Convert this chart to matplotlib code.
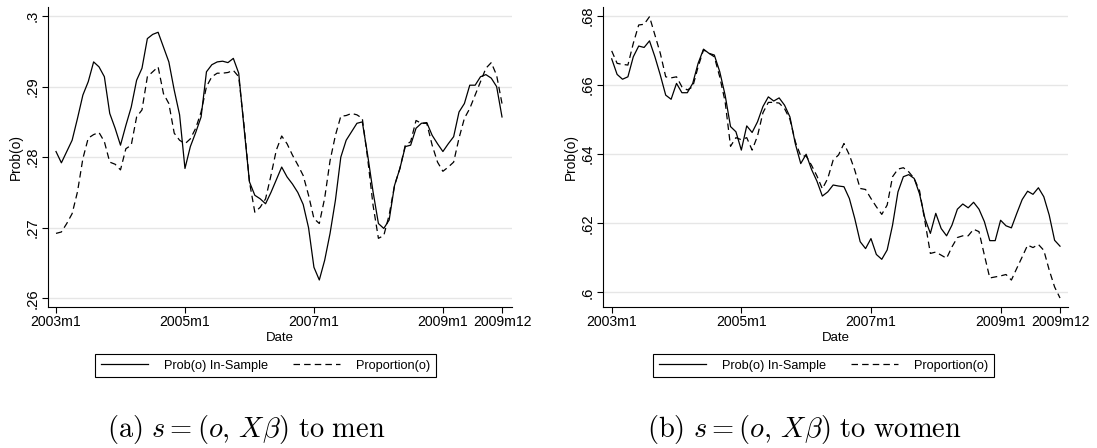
import numpy as np
import matplotlib
matplotlib.use('Agg')
import matplotlib.pyplot as plt

plt.rcParams['font.family'] = ['Liberation Sans', 'DejaVu Sans']
plt.rcParams['mathtext.fontset'] = 'cm'

# monthly index 2003m1 .. 2009m12
months = np.arange(84)
xtick_pos = [0, 24, 48, 72, 83]
xtick_labels = ['2003m1', '2005m1', '2007m1', '2009m1', '2009m12']

men_yticks = [0.26, 0.27, 0.28, 0.29, 0.30]
men_ylabels = ['.26', '.27', '.28', '.29', '.3']
women_yticks = [0.60, 0.62, 0.64, 0.66, 0.68]
women_ylabels = ['.6', '.62', '.64', '.66', '.68']

men_prob = [0.2808, 0.2792, 0.2808, 0.2824, 0.2855, 0.2888, 0.2907, 0.2935, 0.2928, 0.2914,
            0.2862, 0.2841, 0.2817, 0.2845, 0.2871, 0.2909, 0.2926, 0.2968, 0.2974, 0.2977,
            0.2956, 0.2935, 0.2895, 0.2860, 0.2784, 0.2815, 0.2835, 0.2857, 0.2921, 0.2931,
            0.2935, 0.2936, 0.2934, 0.2940, 0.2919, 0.2841, 0.2765, 0.2746, 0.2741, 0.2734,
            0.2750, 0.2768, 0.2786, 0.2772, 0.2762, 0.2750, 0.2733, 0.2700, 0.2644, 0.2626,
            0.2654, 0.2692, 0.2739, 0.2800, 0.2824, 0.2836, 0.2848, 0.2850, 0.2803, 0.2751,
            0.2706, 0.2699, 0.2711, 0.2760, 0.2784, 0.2815, 0.2817, 0.2841, 0.2848, 0.2849,
            0.2831, 0.2819, 0.2808, 0.2819, 0.2829, 0.2864, 0.2876, 0.2902, 0.2902, 0.2914,
            0.2917, 0.2912, 0.2900, 0.2857]
men_prop = [0.2692, 0.2694, 0.2706, 0.2720, 0.2751, 0.2798, 0.2827, 0.2832, 0.2835, 0.2822,
            0.2793, 0.2790, 0.2782, 0.2812, 0.2817, 0.2857, 0.2867, 0.2914, 0.2921, 0.2928,
            0.2890, 0.2876, 0.2834, 0.2824, 0.2819, 0.2826, 0.2841, 0.2864, 0.2900, 0.2914,
            0.2919, 0.2919, 0.2920, 0.2923, 0.2914, 0.2845, 0.2765, 0.2722, 0.2729, 0.2741,
            0.2774, 0.2810, 0.2830, 0.2819, 0.2803, 0.2789, 0.2774, 0.2746, 0.2713, 0.2706,
            0.2742, 0.2795, 0.2831, 0.2858, 0.2859, 0.2862, 0.2860, 0.2855, 0.2798, 0.2732,
            0.2685, 0.2689, 0.2718, 0.2760, 0.2784, 0.2817, 0.2822, 0.2852, 0.2848, 0.2848,
            0.2817, 0.2793, 0.2780, 0.2786, 0.2793, 0.2827, 0.2855, 0.2869, 0.2888, 0.2907,
            0.2926, 0.2934, 0.2916, 0.2876]

women_prob = [0.6676, 0.6631, 0.6617, 0.6624, 0.6682, 0.6713, 0.6709, 0.6728, 0.6682, 0.6629,
              0.6571, 0.6559, 0.6605, 0.6578, 0.6578, 0.6605, 0.6663, 0.6704, 0.6692, 0.6687,
              0.6639, 0.6571, 0.6480, 0.6465, 0.6412, 0.6482, 0.6463, 0.6494, 0.6538, 0.6566,
              0.6554, 0.6563, 0.6542, 0.6508, 0.6430, 0.6373, 0.6400, 0.6356, 0.6322, 0.6279,
              0.6291, 0.6311, 0.6308, 0.6306, 0.6272, 0.6214, 0.6147, 0.6127, 0.6156, 0.6110,
              0.6096, 0.6123, 0.6195, 0.6291, 0.6335, 0.6341, 0.6330, 0.6285, 0.6214, 0.6171,
              0.6229, 0.6185, 0.6164, 0.6195, 0.6241, 0.6256, 0.6245, 0.6261, 0.6241, 0.6205,
              0.6150, 0.6150, 0.6209, 0.6193, 0.6187, 0.6229, 0.6269, 0.6293, 0.6284, 0.6303,
              0.6277, 0.6224, 0.6151, 0.6134]
women_prop = [0.6699, 0.6663, 0.6660, 0.6658, 0.6721, 0.6774, 0.6776, 0.6798, 0.6745, 0.6692,
              0.6624, 0.6621, 0.6624, 0.6595, 0.6586, 0.6595, 0.6653, 0.6702, 0.6692, 0.6682,
              0.6624, 0.6552, 0.6423, 0.6448, 0.6442, 0.6448, 0.6412, 0.6453, 0.6520, 0.6550,
              0.6550, 0.6548, 0.6532, 0.6501, 0.6436, 0.6395, 0.6395, 0.6368, 0.6337, 0.6300,
              0.6330, 0.6383, 0.6398, 0.6431, 0.6398, 0.6354, 0.6301, 0.6298, 0.6272, 0.6248,
              0.6226, 0.6253, 0.6335, 0.6357, 0.6361, 0.6349, 0.6330, 0.6294, 0.6205, 0.6113,
              0.6117, 0.6108, 0.6099, 0.6132, 0.6159, 0.6164, 0.6164, 0.6183, 0.6176, 0.6108,
              0.6042, 0.6045, 0.6048, 0.6052, 0.6036, 0.6070, 0.6103, 0.6137, 0.6130, 0.6139,
              0.6122, 0.6065, 0.6016, 0.5984]

W, H = 1097, 448
fig = plt.figure(figsize=(W / 100, H / 100), dpi=100)


def panel(rect, prob, prop, yticks, ylabels, xlim, ylim, leg_cx, cap_cx, caption):
    ax = fig.add_axes([rect[0] / W, 1 - rect[3] / H, (rect[2] - rect[0]) / W, (rect[3] - rect[1]) / H])
    ax.plot(months, prob, color='black', lw=0.9, label='Prob(o) In-Sample')
    ax.plot(months, prop, color='black', lw=0.9, dashes=(5.2, 3.3), label='Proportion(o)')
    ax.set_xlim(*xlim)
    ax.set_ylim(*ylim)
    ax.set_xticks(xtick_pos)
    ax.set_xticklabels(xtick_labels, fontsize=10.1)
    ax.set_yticks(yticks)
    ax.set_yticklabels(ylabels, fontsize=10.6, rotation=90, va='center')
    ax.yaxis.grid(True, color='#e6e6e6', lw=1.0)
    ax.set_axisbelow(True)
    for s in ['top', 'right']:
        ax.spines[s].set_visible(False)
    for s in ['left', 'bottom']:
        ax.spines[s].set_linewidth(0.8)
    ax.tick_params(direction='out', length=4, width=0.8, pad=2)
    ax.set_xlabel('Date', fontsize=9.5, labelpad=2)
    ax.set_ylabel('Prob(o)', fontsize=9.9, labelpad=2)
    leg = ax.legend(loc='center', bbox_to_anchor=(leg_cx / W, 1 - 365.5 / H),
                    bbox_transform=fig.transFigure, ncol=2, fontsize=9.2,
                    frameon=True, fancybox=False, edgecolor='black', framealpha=1,
                    handlelength=3.7, handletextpad=1.2, columnspacing=2.0,
                    borderpad=0.45)
    leg.get_frame().set_linewidth(0.8)
    fig.text(cap_cx / W, 1 - 429 / H, caption, ha='center', va='center', fontsize=20.5)
    return ax


panel((48, 7, 512, 307), men_prob, men_prop, men_yticks, men_ylabels,
      (-1.49, 84.86), (0.25877, 0.30128), 265.5, 246.5,
      r'$\mathrm{(a)}\ s=(o,\,X\beta)\ \mathrm{to\ men}$')
panel((603, 7, 1068, 307), women_prob, women_prop, women_yticks, women_ylabels,
      (-1.61, 84.48), (0.5958, 0.6826), 823.5, 804,
      r'$\mathrm{(b)}\ s=(o,\,X\beta)\ \mathrm{to\ women}$')

fig.savefig('out.png', dpi=100)
